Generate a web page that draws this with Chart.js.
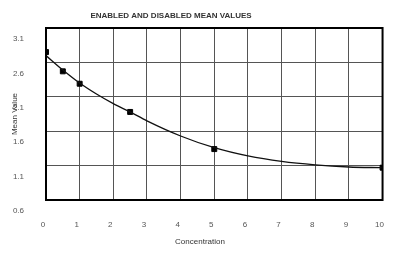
<!DOCTYPE html>
<html>
<head>
<meta charset="utf-8">
<script src="https://cdn.jsdelivr.net/npm/chart.js@4"></script>
<style>
  html, body { margin: 0; padding: 0; background: #fff; }
  #wrap { width: 407px; height: 257px; }
</style>
</head>
<body>
<div id="wrap"><canvas id="myChart" width="407" height="257"></canvas></div>
<script>
// measured points
var pointX = [0, 0.5, 1, 2.5, 5, 10];
var pointY = [2.75, 2.47, 2.29, 1.88, 1.34, 1.07];

// fitted curve
var curveX = [0, 0.5, 1, 1.5, 2, 2.5, 3, 4, 5, 6, 7, 8, 9, 10];
var curveY = [2.7, 2.49, 2.3, 2.14, 2.0, 1.88, 1.75, 1.53, 1.36, 1.24, 1.16, 1.11, 1.08, 1.07];

var yTicks = [3.1, 2.6, 2.1, 1.6, 1.1, 0.6];
var xTicks = [0, 1, 2, 3, 4, 5, 6, 7, 8, 9, 10];

var titleText = 'ENABLED AND DISABLED MEAN VALUES';
var xTitle = 'Concentration';
var yTitle = 'Mean Value';

function toXY(xs, ys) {
    var out = [];
    for (var i = 0; i < xs.length; i++) out.push({x: xs[i], y: ys[i]});
    return out;
}

// draws the texts that sit off-centre in the original
var textPlugin = {
    id: 'texts',
    afterDraw: function(chart) {
        var c = chart.ctx;
        c.save();
        c.fillStyle = '#333';
        c.textAlign = 'center';
        c.textBaseline = 'middle';
        c.font = 'bold 8px "Liberation Sans Narrow", "Liberation Sans", Arial';
        c.fillText(titleText, 171, 16);
        c.font = '8px "Liberation Sans", Arial';
        c.fillText(xTitle, 200, 242);
        c.translate(15, 114);
        c.rotate(-Math.PI / 2);
        c.fillText(yTitle, 0, 0);
        c.restore();
    }
};

// thick frame round the plot
var framePlugin = {
    id: 'frame',
    afterDatasetsDraw: function(chart) {
        var a = chart.chartArea, c = chart.ctx;
        c.save();
        c.strokeStyle = '#000';
        c.lineWidth = 2;
        c.strokeRect(a.left, a.top, a.right - a.left, a.bottom - a.top);
        c.restore();
    }
};

const ctx = document.getElementById('myChart');

new Chart(ctx, {
    type: 'scatter',
    data: {
        datasets: [{
            label: 'curve',
            data: toXY(curveX, curveY),
            showLine: true,
            borderColor: '#111',
            borderWidth: 1.3,
            pointRadius: 0,
            tension: 0.4,
            cubicInterpolationMode: 'monotone'
        }, {
            label: 'points',
            data: toXY(pointX, pointY),
            showLine: false,
            pointStyle: 'rect',
            pointRadius: 3.5,
            backgroundColor: '#000',
            borderColor: '#000'
        }]
    },
    options: {
        responsive: false,
        animation: false,
        layout: { padding: { top: 28, right: 18, left: 0, bottom: 0 } },
        plugins: {
            legend: { display: false },
            tooltip: { enabled: false }
        },
        scales: {
            x: {
                type: 'linear',
                min: 0,
                max: 10,
                afterBuildTicks: function(axis) {
                    axis.ticks = xTicks.map(function(v) { return {value: v}; });
                },
                afterFit: function(axis) { axis.height = 57; },
                grid: { color: '#555', lineWidth: 1, drawTicks: false },
                border: { display: false },
                ticks: {
                    color: '#555',
                    font: { size: 8, family: '"Liberation Sans", Arial' },
                    padding: 20,
                    labelOffset: -3,
                    maxRotation: 0
                }
            },
            y: {
                min: 0.6,
                max: 3.1,
                afterBuildTicks: function(axis) {
                    axis.ticks = yTicks.map(function(v) { return {value: v}; });
                },
                afterFit: function(axis) { axis.width = 46; },
                grid: { color: '#555', lineWidth: 1, drawTicks: false },
                border: { display: false },
                ticks: {
                    color: '#555',
                    font: { size: 8, family: '"Liberation Sans", Arial' },
                    padding: 22,
                    labelOffset: 11,
                    callback: function(v) { return v.toFixed(1); }
                }
            }
        }
    },
    plugins: [textPlugin, framePlugin]
});
</script>
</body>
</html>
